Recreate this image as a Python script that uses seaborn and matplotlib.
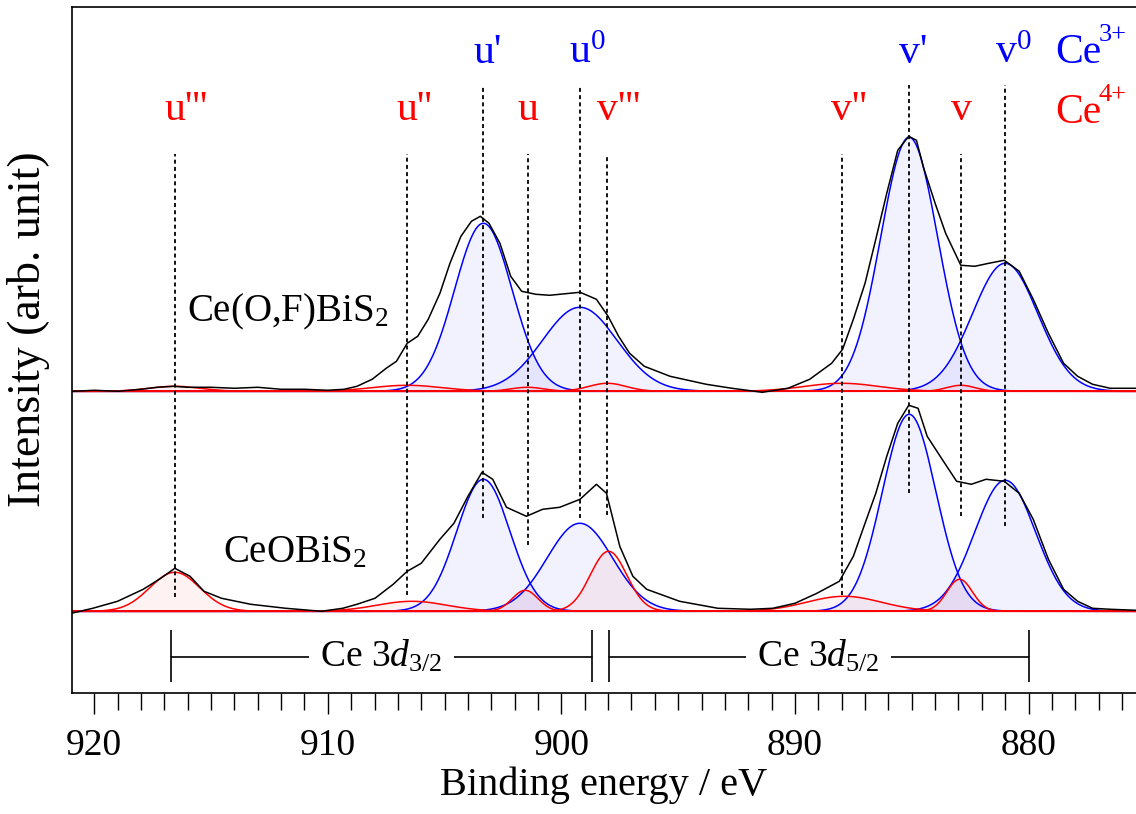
import numpy as np
import pandas as pd
import matplotlib
matplotlib.use("Agg")
import matplotlib.pyplot as plt
import seaborn as sns

# ---------------- style ----------------
sns.set_theme(style="ticks")
plt.rcParams['font.family'] = ['Liberation Serif', 'DejaVu Serif']
plt.rcParams['mathtext.fontset'] = 'custom'
plt.rcParams['mathtext.rm'] = 'Liberation Serif'
plt.rcParams['mathtext.it'] = 'Liberation Serif:italic'
plt.rcParams['text.color'] = 'black'
plt.rcParams['axes.labelcolor'] = 'black'
plt.rcParams['xtick.color'] = 'black'

# ---------------- data ----------------
# peak labels / positions (eV)
peak_names = ["u'''", "u''", "u'", "u", "u$^0$", "v'''", "v''", "v'", "v", "v$^0$"]
peak_pos = [916.55, 906.63, 903.34, 901.45, 899.21, 898.03, 888.0, 885.11, 882.89, 881.0]
peak_is_ce3 = [False, False, True, False, True, False, False, True, False, True]
line_bottom = [96, 98, 175, 148, 175, 178, 98, 200, 177, 167]

# fitted components: center, height, sigma
top_blue_c = [903.34, 899.21, 885.11, 881.0]
top_blue_h = [168, 84, 254, 128]
top_blue_s = [1.23, 1.6, 1.22, 1.4]
top_red_c = [916.55, 906.6, 901.45, 898.03, 888.0, 882.89]
top_red_h = [5, 6, 4, 8, 8, 6]
top_red_s = [1.1, 1.5, 0.7, 0.8, 1.6, 0.6]

bot_blue_c = [903.34, 899.21, 885.11, 881.0]
bot_blue_h = [132, 88, 197, 131]
bot_blue_s = [1.14, 1.4, 1.15, 1.3]
bot_red_c = [916.55, 906.4, 901.55, 897.98, 887.9, 882.95]
bot_red_h = [39, 10, 21, 60, 15, 32]
bot_red_s = [1.07, 1.5, 0.55, 0.78, 1.6, 0.55]

top_energy = [920.9, 920.0, 919.0, 918.0, 917.3, 916.6, 916.0, 915.0, 914.0, 913.0, 912.0,
              911.0, 910.0, 909.3, 908.75, 908.1, 907.5, 907.06, 906.6, 906.15, 905.7,
              905.2, 904.77, 904.3, 903.85, 903.47, 903.1, 902.63, 902.17, 901.7, 901.1,
              900.5, 900.07, 899.2, 898.5, 898.0, 897.55, 897.08, 896.45, 895.35, 893.8,
              892.7, 891.4, 890.3, 889.37, 888.43, 887.96, 887.5, 887.0, 886.54, 886.07,
              885.6, 885.13, 884.8, 884.5, 884.0, 883.55, 882.9, 882.3, 881.7, 881.04,
              880.4, 879.8, 879.15, 878.5, 877.9, 877.26, 876.5, 875.4]
top_counts = [0, 1, 0, 2, 4, 5, 4, 4, 3, 4, 2,
              2, 1, 2, 5, 12, 23, 30, 48, 55, 72,
              98, 128, 155, 170, 175, 168, 148, 115, 100, 97,
              96, 97, 99, 92, 75, 55, 38, 25, 15, 7,
              3, -1, 3, 12, 28, 42, 72, 108, 152, 198,
              241, 255, 251, 224, 188, 158, 126, 125, 128, 131,
              120, 92, 58, 28, 15, 7, 3, 3]

bot_energy = [920.98, 920.06, 919.0, 917.9, 917.15, 916.55, 915.9, 915.3, 914.55, 913.3,
              911.8, 910.27, 909.36, 908.75, 907.98, 907.2, 906.6, 906.0, 905.2, 904.6,
              904.0, 903.4, 902.94, 902.35, 901.5, 900.8, 900.07, 899.2, 898.5,
              898.07, 897.5, 896.94, 896.35, 894.94, 893.3, 891.9, 890.95, 890.0,
              889.06, 888.1, 887.5, 887.0, 886.54, 886.07, 885.6, 885.13, 884.73, 884.34,
              883.7, 883.08, 882.45, 881.82, 881.04, 880.4, 879.8, 879.15, 878.5, 877.9,
              877.26, 876.5, 875.4]
bot_counts = [-2, 3, 10, 22, 33, 43, 35, 20, 13, 7,
              3, 0, 3, 7, 13, 27, 40, 48, 72, 88,
              115, 139, 132, 104, 95, 102, 104, 112, 127,
              118, 65, 35, 22, 10, 3, 2, 3, 8,
              18, 30, 55, 88, 118, 155, 188, 206, 203, 175,
              152, 130, 127, 132, 130, 118, 92, 52, 22, 10,
              3, 2, 1]

top_offset = 302
bot_offset = 82

# ---------------- figure ----------------
fig = plt.figure(figsize=(11.36, 8.14), dpi=100)
ax = fig.add_axes([0.0636, 0.1483, 0.9364, 0.8435])

x = np.linspace(875.0, 921.5, 1500)


def gauss(c, h, s):
    return h * np.exp(-0.5 * ((x - c) / s) ** 2)


def draw_components(cs, hs, ss, offset, color):
    for c, h, s in zip(cs, hs, ss):
        g = gauss(c, h, s)
        ax.fill_between(x, offset, offset + g, color=color, alpha=0.05, lw=0)
        ax.plot(x, offset + g, color=color, lw=1.1)


for off, bc, bh, bs, rc, rh, rs in [
        (top_offset, top_blue_c, top_blue_h, top_blue_s, top_red_c, top_red_h, top_red_s),
        (bot_offset, bot_blue_c, bot_blue_h, bot_blue_s, bot_red_c, bot_red_h, bot_red_s)]:
    draw_components(bc, bh, bs, off, "#0000ff")
    draw_components(rc, rh, rs, off, "#ff0000")

spec = pd.concat([
    pd.DataFrame({"E": top_energy, "I": np.array(top_counts) + top_offset, "sample": "top"}),
    pd.DataFrame({"E": bot_energy, "I": np.array(bot_counts) + bot_offset, "sample": "bot"}),
])
sns.lineplot(data=spec, x="E", y="I", units="sample", estimator=None, sort=False,
             color="black", lw=1.1, ax=ax, legend=False)

# dashed guide lines and labels
for name, pos, ce3, yb in zip(peak_names, peak_pos, peak_is_ce3, line_bottom):
    ytop = 608 if ce3 else 539
    ax.vlines(pos, yb, ytop, colors="black", linestyles=(0, (2.2, 1.8)), lw=1.3)
    ax.annotate(name, xy=(pos, 630 if ce3 else 573), xytext=(-7.5, 0),
                textcoords="offset points", ha="left", va="baseline",
                color="#0000ff" if ce3 else "#ff0000", fontsize=30)

# Ce3+ / Ce4+ legend text (superscript drawn as its own text)
for yb, sup, col in [(630, "3+", "#0000ff"), (570, "4+", "#ff0000")]:
    ax.text(878.87, yb, "Ce", color=col, fontsize=30, ha="left", va="baseline")
    ax.annotate(sup, xy=(878.87, yb), xytext=(31.5, 16), textcoords="offset points",
                color=col, fontsize=19, ha="left", va="baseline")

ax.text(916.01, 372, "Ce(O,F)BiS$_2$", fontsize=28, ha="left", va="baseline")
ax.text(914.49, 131, "CeOBiS$_2$", fontsize=28, ha="left", va="baseline")

# spin-orbit brackets
for e1, e2, lab in [(916.73, 898.7, r"Ce 3$d_{\mathrm{3/2}}$"),
                    (897.98, 880.0, r"Ce 3$d_{\mathrm{5/2}}$")]:
    ax.plot([e1, e2], [36.6, 36.6], color="black", lw=1.2)
    ax.vlines([e1, e2], 11.6, 63.3, colors="black", lw=1.2)
    ax.text((e1 + e2) / 2, 36.6, lab, fontsize=27, ha="center", va="center",
            bbox=dict(facecolor="white", edgecolor="none", pad=8))

# axes
ax.set_xlim(920.94, 875.4)
ax.set_ylim(0, 686.6)
ax.set_xticks([920, 910, 900, 890, 880])
ax.set_xticks(np.arange(876, 921, 1), minor=True)
ax.set_yticks([])
ax.tick_params(axis="x", which="major", direction="out", length=15, width=1, labelsize=27, pad=10)
ax.tick_params(axis="x", which="minor", direction="out", length=12, width=1)
ax.spines["right"].set_visible(False)
for s in ["left", "top", "bottom"]:
    ax.spines[s].set_linewidth(1.2)
    ax.spines[s].set_color("black")
ax.set_xlabel("Binding energy / eV", fontsize=29, labelpad=3)
ax.set_ylabel("Intensity (arb. unit)", fontsize=33, labelpad=10)
ax.yaxis.set_label_coords(-0.021, 0.53)

fig.savefig("out.png", dpi=100)
